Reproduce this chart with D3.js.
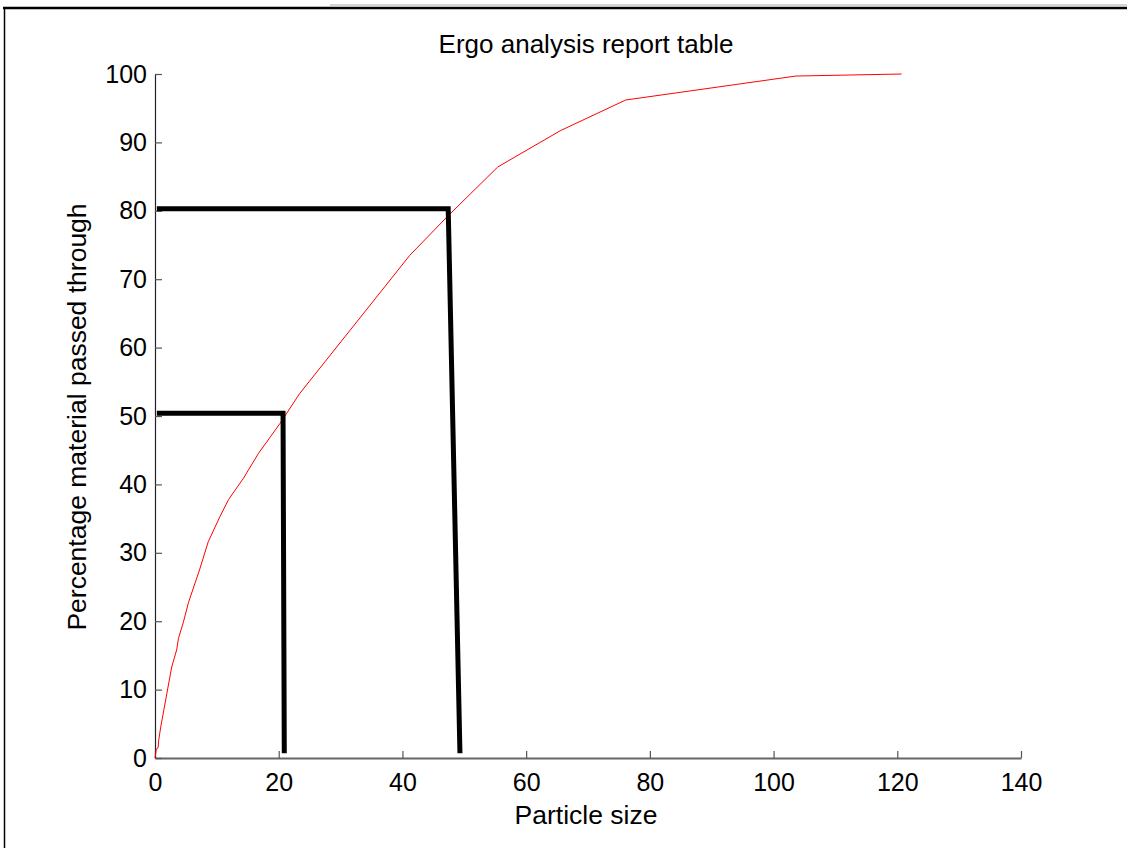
<!DOCTYPE html>
<html>
<head>
<meta charset="utf-8">
<script src="https://cdn.jsdelivr.net/npm/d3@7"></script>
<style>
  html, body { margin: 0; padding: 0; background: #fff; }
  svg { display: block; font-family: "Liberation Sans", Arial, sans-serif; }
</style>
</head>
<body>
<div id="svg-container"></div>
<script>
// data
const particleSize = [0, 0.2, 0.5, 0.6, 0.9, 2.7, 3.5, 3.8, 4.6, 5.4, 7.2, 8.6, 10.5, 11.9, 14.3, 16.7, 20.2, 23.4, 41.2, 47.2, 55.4, 65.5, 76.1, 103.6, 120.7];
const passed = [0, 1.3, 1.5, 2.6, 4.4, 13.3, 15.8, 17.5, 19.9, 22.7, 27.5, 31.6, 35.3, 37.8, 40.9, 44.5, 48.9, 53.3, 73.5, 79.1, 86.4, 91.7, 96.2, 99.7, 100];

// d50 / d80 guide lines
const d50X = [0.3, 20.7, 20.9];
const d50Y = [50.4, 50.4, 0.7];
const d80X = [0.3, 47.4, 49.3];
const d80Y = [80.3, 80.3, 0.7];

const xTicks = [0, 20, 40, 60, 80, 100, 120, 140];
const yTicks = [0, 10, 20, 30, 40, 50, 60, 70, 80, 90, 100];

const width = 1127, height = 848;
const margin = { top: 74, right: 106, bottom: 90, left: 155 };

const svg = d3.select("#svg-container").append("svg")
  .attr("width", width).attr("height", height);

// figure frame
svg.append("line").attr("x1", 330).attr("x2", width).attr("y1", 5).attr("y2", 5)
  .attr("stroke", "#aaa").attr("stroke-width", 1);
svg.append("line").attr("x1", 3).attr("x2", width).attr("y1", 8).attr("y2", 8)
  .attr("stroke", "#000").attr("stroke-width", 2.5);
svg.append("line").attr("x1", 4.5).attr("x2", 4.5).attr("y1", 7).attr("y2", height)
  .attr("stroke", "#000").attr("stroke-width", 1.5);

// scales
const xScale = d3.scaleLinear().domain([0, 140]).range([margin.left, width - margin.right]);
const yScale = d3.scaleLinear().domain([0, 100]).range([height - margin.bottom, margin.top]);

// axes (ticks point inward like matlab)
const xAxis = d3.axisBottom(xScale).tickValues(xTicks).tickSizeInner(-7).tickSizeOuter(0).tickPadding(15);
const yAxis = d3.axisLeft(yScale).tickValues(yTicks).tickSizeInner(-7).tickSizeOuter(0).tickPadding(8);

const gx = svg.append("g").attr("class", "x-axis")
  .attr("transform", `translate(0,${height - margin.bottom})`).call(xAxis);
const gy = svg.append("g").attr("class", "y-axis")
  .attr("transform", `translate(${margin.left},0)`).call(yAxis);

[gx, gy].forEach((g) => {
  g.attr("font-size", 25).attr("font-family", "Liberation Sans, Arial, sans-serif");
  g.select(".domain").attr("stroke", "#222").attr("stroke-width", 1.2);
  g.selectAll(".tick line").attr("stroke", "#555").attr("stroke-width", 1.2);
  g.selectAll(".tick text").attr("fill", "#000");
});
gx.select(".domain").attr("stroke", "#666").attr("stroke-width", 2);

// line
const line = d3.line()
  .x((d) => xScale(d[0]))
  .y((d) => yScale(d[1]));

svg.append("path")
  .datum(d3.zip(particleSize, passed))
  .attr("d", line)
  .attr("fill", "none")
  .attr("stroke", "#ff0000")
  .attr("stroke-width", 1);

[[d50X, d50Y], [d80X, d80Y]].forEach(([xs, ys]) => {
  svg.append("path")
    .datum(d3.zip(xs, ys))
    .attr("d", line)
    .attr("fill", "none")
    .attr("stroke", "#000")
    .attr("stroke-width", 5)
    .attr("stroke-linejoin", "miter");
});

// texts
svg.append("text")
  .attr("x", 586).attr("y", 53)
  .attr("text-anchor", "middle").attr("font-size", 26)
  .text("Ergo analysis report table");

svg.append("text")
  .attr("x", 586).attr("y", 824)
  .attr("text-anchor", "middle").attr("font-size", 26.5)
  .text("Particle size");

svg.append("text")
  .attr("transform", "translate(86,417) rotate(-90)")
  .attr("text-anchor", "middle").attr("font-size", 26.5)
  .text("Percentage material passed through");
</script>
</body>
</html>
